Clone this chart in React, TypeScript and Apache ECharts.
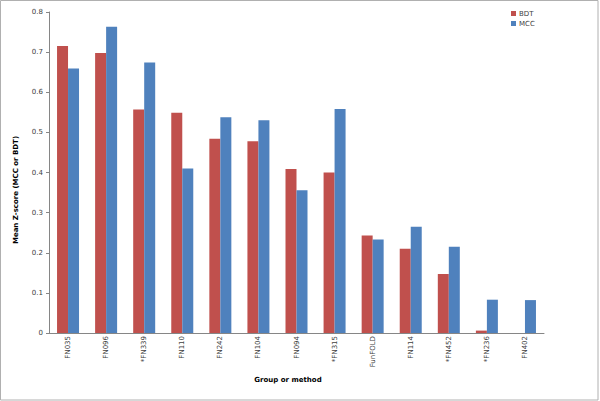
import React, { useEffect, useRef } from "react";
import * as echarts from "echarts";

const categories = ["FN035", "FN096", "*FN339", "FN110", "FN242", "FN104", "FN094", "*FN315", "FunFOLD", "FN114", "*FN452", "*FN236", "FN402"];
const bdtValues = [0.715, 0.698, 0.557, 0.549, 0.484, 0.478, 0.409, 0.400, 0.243, 0.210, 0.147, 0.006, 0];
const mccValues = [0.659, 0.763, 0.674, 0.410, 0.538, 0.530, 0.356, 0.558, 0.233, 0.265, 0.215, 0.083, 0.082];
const yTicks = { min: 0, max: 0.8, interval: 0.1 };

export default function App() {
  const ref = useRef<HTMLDivElement>(null);
  useEffect(() => {
    document.body.style.margin = "0";
    const chart = echarts.init(ref.current!, null, { renderer: "svg" });
    const font = "DejaVu Sans";
    chart.setOption({
      animation: false,
      backgroundColor: "#ffffff",
      textStyle: { fontFamily: font },
      grid: { left: 49, right: 56, top: 12, bottom: 68, containLabel: false },
      legend: {
        orient: "vertical",
        left: 506,
        top: 5,
        itemWidth: 5,
        itemHeight: 5,
        itemGap: 3,
        icon: "rect",
        textStyle: { fontSize: 7, color: "#404040", fontFamily: font, padding: [0, 0, 0, -2] },
        data: ["BDT", "MCC"],
      },
      xAxis: {
        type: "category",
        data: categories,
        axisLine: { lineStyle: { color: "#868686", width: 1 } },
        axisTick: { show: false },
        axisLabel: { rotate: 90, fontSize: 7, color: "#404040", margin: 3, interval: 0, fontFamily: font },
      },
      yAxis: {
        type: "value",
        min: yTicks.min,
        max: yTicks.max,
        interval: yTicks.interval,
        axisLine: { show: true, lineStyle: { color: "#868686", width: 1 } },
        axisTick: { show: true, length: 3, lineStyle: { color: "#868686" } },
        splitLine: { show: false },
        axisLabel: { fontSize: 7, color: "#404040", margin: 6, fontFamily: font },
      },
      series: [
        {
          name: "BDT",
          type: "bar",
          data: bdtValues,
          barWidth: 11,
          barGap: "0%",
          itemStyle: { color: "#C0504D" },
        },
        {
          name: "MCC",
          type: "bar",
          data: mccValues,
          barWidth: 11,
          barGap: "0%",
          itemStyle: { color: "#4F81BD" },
        },
      ],
      graphic: [
        {
          type: "rect",
          shape: { x: 0.5, y: 0.5, width: 597.5, height: 399.5 },
          style: { fill: "none", stroke: "#b0b0b0", lineWidth: 1 },
          silent: true,
        },
        {
          type: "text",
          x: 16,
          y: 190,
          rotation: Math.PI / 2,
          style: {
            text: "Mean Z-score (MCC or BDT)",
            fontSize: 7,
            fontWeight: "bold",
            fontFamily: font,
            fill: "#000000",
            align: "center",
            verticalAlign: "middle",
          },
        },
        {
          type: "text",
          x: 288,
          y: 380,
          style: {
            text: "Group or method",
            fontSize: 7,
            fontWeight: "bold",
            fontFamily: font,
            fill: "#000000",
            align: "center",
            verticalAlign: "middle",
          },
        },
      ],
    });
    return () => chart.dispose();
  }, []);
  return <div ref={ref} style={{ width: 600, height: 401 }} />;
}
